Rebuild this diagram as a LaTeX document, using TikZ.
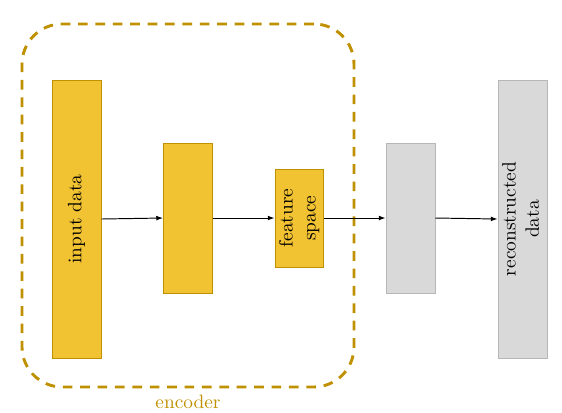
\documentclass[tikz,border=0pt]{standalone}
\usepackage{tikz}
\usetikzlibrary{%
        arrows.meta,
        positioning
    }
\definecolor{gold}{RGB}{191, 144, 0}
\definecolor{mustard}{RGB}{241, 194, 50}
\definecolor{lightgray}{RGB}{217, 217, 217}
\definecolor{midgray}{RGB}{183, 183, 183}
\tikzset{%
    layer/.style={%
        draw=gold,
        fill=mustard,
        line width=0.5pt,
        minimum width=0.89cm,
        inner sep=0pt
    },
    outlayer/.style={%
        layer,
        draw=midgray,
        fill=lightgray
    },
    flow/.style={%
        -{Latex[length=3.5pt, width=2.5pt]},
        line width=0.5pt
    }
}

\begin{document}
\begin{tikzpicture}

    \useasboundingbox (0, 0) rectangle (10.218, 7.491);

    % Encoder
    \node[%
        draw=gold,
        dashed,
        dash pattern=on 5pt off 4pt,
        line width=1.5pt,
        rounded corners=0.73cm,
        minimum width=6.036cm,
        minimum height=6.6cm
    ] (encoder) at (3.418, 3.755) {};
    \node[text=gold, below=0pt of encoder.south] (enclabel) {encoder};

    % Layers
    \node[layer, minimum height=5.055cm] (input) at (1.391, 3.509)
        {\rotatebox{90}{input data}};
    \node[layer, minimum height=2.727cm] (hidden1) at (3.418, 3.527) {};
    \node[layer, minimum height=1.782cm] (feature) at (5.445, 3.527)
        {\rotatebox{90}{\begin{tabular}{@{}c@{}}feature\\space\end{tabular}}};
    \node[outlayer, minimum height=2.727cm] (hidden2) at (7.464, 3.527) {};
    \node[outlayer, minimum height=5.055cm] (output) at (9.5, 3.509)
        {\rotatebox{90}{\begin{tabular}{@{}c@{}}reconstructed\\data\end{tabular}}};

    % Connecting up
    \draw[flow] (input.east) -- (hidden1.west);
    \draw[flow] (hidden1.east) -- (feature.west);
    \draw[flow] (feature.east) -- (hidden2.west);
    \draw[flow] (hidden2.east) -- (output.west);

\end{tikzpicture}
\end{document}
